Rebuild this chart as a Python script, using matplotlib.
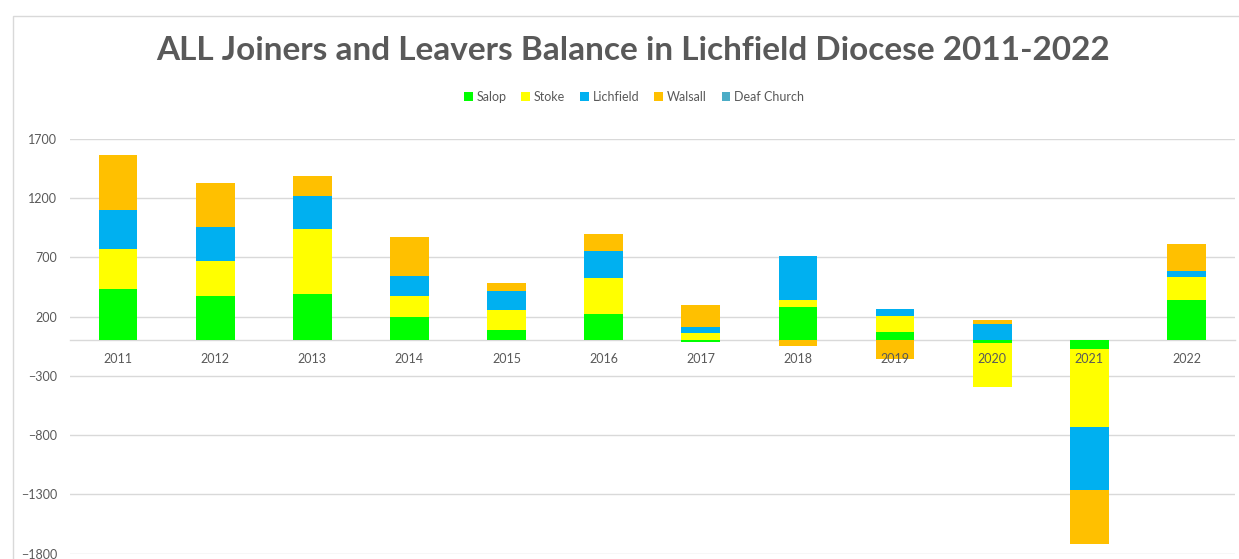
import matplotlib
matplotlib.use("Agg")
import matplotlib.pyplot as plt
import numpy as np
from matplotlib.patches import Rectangle

years = ["2011", "2012", "2013", "2014", "2015", "2016", "2017", "2018", "2019", "2020", "2021", "2022"]
salop = [432, 375, 395, 198, 91, 224, -10, 283, 69, -18, -74, 339]
stoke = [338, 296, 546, 177, 164, 301, 63, 59, 135, -372, -659, 194]
lichfield = [329, 287, 281, 172, 163, 233, 54, 371, 64, 139, -529, 51]
walsall = [464, 371, 164, 329, 70, 138, 183, -44, -160, 31, -455, 230]
deaf_church = [0, 0, 0, 0, 0, 0, 0, 0, 0, 0, 0, 0]

series_names = ["Salop", "Stoke", "Lichfield", "Walsall", "Deaf Church"]
series_vals = [salop, stoke, lichfield, walsall, deaf_church]
colors = ["#00FF00", "#FFFF00", "#00B0F0", "#FFC000", "#4BACC6"]
yticks = [1700, 1200, 700, 200, -300, -800, -1300, -1800]

W, H = 1239, 559
fig = plt.figure(figsize=(W / 100, H / 100), dpi=100)

# chart border (cropped Excel chart area)
fig.patches.append(Rectangle((13.5 / W, -0.05), 1.2, 1 - 15.5 / H + 0.05,
                             transform=fig.transFigure, fill=False,
                             edgecolor="#D9D9D9", linewidth=1.0))

ax_l, ax_r = 69.5 / W, 1235 / W
ax_b, ax_t = 1 - 553.7 / H, 1 - 139 / H
ax = fig.add_axes([ax_l, ax_b, ax_r - ax_l, ax_t - ax_b])

x = np.arange(len(years))
pos_bottom = np.zeros(len(years))
neg_bottom = np.zeros(len(years))
for name, vals, c in zip(series_names, series_vals, colors):
    v = np.array(vals, dtype=float)
    bottoms = np.where(v >= 0, pos_bottom, neg_bottom)
    ax.bar(x, v, width=0.4, bottom=bottoms, color=c, label=name, zorder=3,
           edgecolor="none")
    pos_bottom += np.where(v >= 0, v, 0)
    neg_bottom += np.where(v < 0, v, 0)

ax.set_xlim(-0.5, len(years) - 0.5)
ax.set_ylim(-1800, 1700)
ax.set_yticks(yticks)
ax.yaxis.grid(True, color="#D9D9D9", linewidth=1.0)
ax.set_axisbelow(True)
ax.xaxis.set_zorder(5)
for s in ["left", "right", "top"]:
    ax.spines[s].set_visible(False)
ax.spines["bottom"].set_position(("data", 0))
ax.spines["bottom"].set_color("#D9D9D9")
ax.spines["bottom"].set_linewidth(1.0)
ax.spines["bottom"].set_zorder(2)
ax.set_xticks(x)
ax.set_xticklabels(years)
ax.tick_params(axis="x", length=0, pad=9, labelsize=9, labelcolor="#595959")
ax.tick_params(axis="y", length=0, pad=9, labelsize=9, labelcolor="#595959")
for lab in ax.get_xticklabels() + ax.get_yticklabels():
    lab.set_fontfamily("Lato")

fig.text(632.5 / W, 1 - 50 / H, "ALL Joiners and Leavers Balance in Lichfield Diocese 2011-2022",
         ha="center", va="center", fontsize=24, fontweight="bold", color="#595959",
         family="Lato")

leg = fig.legend(loc="center", bbox_to_anchor=(634 / W, 1 - 97 / H), ncol=5,
                 frameon=False, handlelength=0.7, handleheight=0.7,
                 handletextpad=0.3, columnspacing=1.2, prop={"family": "Lato", "size": 9})
for t in leg.get_texts():
    t.set_color("#595959")

fig.savefig("out.png", dpi=100)
